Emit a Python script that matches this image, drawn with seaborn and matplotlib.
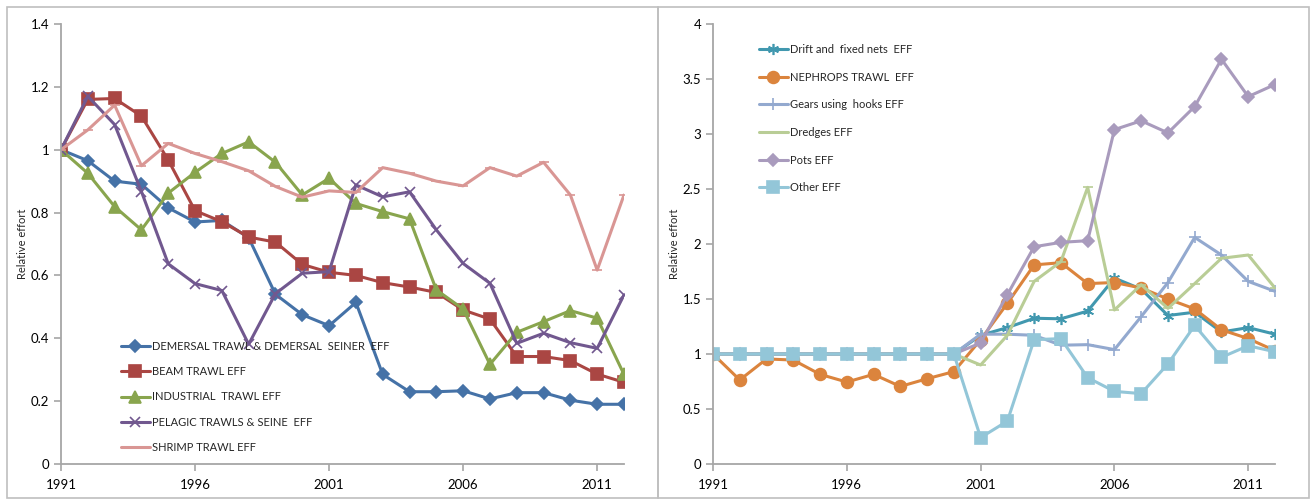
import numpy as np
import pandas as pd
import matplotlib
matplotlib.use("Agg")
import matplotlib.pyplot as plt
import matplotlib.ticker as mticker
from matplotlib.patches import Rectangle
import seaborn as sns

# dados
years = list(range(1991, 2013))

demersal = [1.0, 0.965, 0.9, 0.89, 0.815, 0.77, 0.775, 0.72, 0.54, 0.475, 0.44, 0.514,
            0.285, 0.23, 0.23, 0.233, 0.207, 0.227, 0.227, 0.203, 0.19, 0.19]
beam = [1.0, 1.16, 1.163, 1.107, 0.967, 0.806, 0.771, 0.722, 0.706, 0.635, 0.61, 0.6,
        0.577, 0.563, 0.546, 0.49, 0.461, 0.342, 0.342, 0.329, 0.286, 0.26]
industrial = [1.0, 0.925, 0.819, 0.745, 0.862, 0.928, 0.988, 1.025, 0.96, 0.856, 0.909, 0.829,
              0.803, 0.78, 0.554, 0.493, 0.317, 0.419, 0.453, 0.488, 0.464, 0.285]
pelagic = [1.0, 1.17, 1.08, 0.867, 0.637, 0.574, 0.552, 0.381, 0.542, 0.607, 0.612, 0.888,
           0.85, 0.866, 0.745, 0.638, 0.575, 0.384, 0.416, 0.386, 0.368, 0.538]
shrimp = [1.0, 1.063, 1.142, 0.949, 1.02, 0.988, 0.962, 0.933, 0.883, 0.849, 0.869, 0.864,
          0.943, 0.925, 0.9, 0.885, 0.943, 0.916, 0.96, 0.856, 0.617, 0.856]

drift = [1.0] * 10 + [1.17, 1.24, 1.325, 1.32, 1.39, 1.69, 1.59, 1.35, 1.38, 1.2, 1.24, 1.18]
nephrops = [1.0, 0.764, 0.955, 0.945, 0.815, 0.745, 0.815, 0.705, 0.775, 0.84, 1.13, 1.46,
            1.81, 1.83, 1.64, 1.65, 1.6, 1.5, 1.41, 1.22, 1.14, 1.03]
hooks = [1.0] * 10 + [1.18, 1.18, 1.17, 1.08, 1.085, 1.04, 1.34, 1.65, 2.06, 1.9, 1.66, 1.57]
dredges = [1.0] * 10 + [0.9, 1.17, 1.66, 1.84, 2.515, 1.4, 1.63, 1.415, 1.64, 1.87, 1.9, 1.6]
pots = [1.0] * 10 + [1.1, 1.54, 1.975, 2.015, 2.03, 3.04, 3.12, 3.01, 3.25, 3.68, 3.34, 3.45]
other = [1.0] * 10 + [0.24, 0.39, 1.13, 1.14, 0.785, 0.66, 0.64, 0.91, 1.26, 0.97, 1.075, 1.02]

left_series = [
    ("DEMERSAL TRAWL & DEMERSAL  SEINER  EFF", demersal, "#4572A7", "D", 6.5),
    ("BEAM TRAWL EFF", beam, "#AA4643", "s", 8.5),
    ("INDUSTRIAL  TRAWL EFF", industrial, "#89A54E", "^", 8.5),
    ("PELAGIC TRAWLS & SEINE  EFF", pelagic, "#71588F", "x", 7),
    ("SHRIMP TRAWL EFF", shrimp, "#D99694", "_", 7),
]
right_series = [
    ("Drift and  fixed nets  EFF", drift, "#4198AF", (6, 2, 0), 8),
    ("NEPHROPS TRAWL  EFF", nephrops, "#DB843D", "o", 8.5),
    ("Gears using  hooks EFF", hooks, "#93A9CF", "+", 8),
    ("Dredges EFF", dredges, "#B9CD96", "_", 7),
    ("Pots EFF", pots, "#A99BBD", "D", 6.5),
    ("Other EFF", other, "#93C6D8", "s", 8.5),
]

sns.set_style("white")
plt.rcParams['font.family'] = ['Lato', 'DejaVu Sans']

fig = plt.figure(figsize=(13.13, 5), dpi=100)
W, H = 1313, 500

# molduras dos dois graficos
for x0, x1 in [(7, 658), (658, 1309)]:
    fig.patches.append(Rectangle((x0 / W, 1 - 498 / H), (x1 - x0) / W, (498 - 7) / H,
                                 transform=fig.transFigure, fill=False,
                                 edgecolor="#BFBFBF", lw=1.2))

ax1 = fig.add_axes([61 / W, 1 - 464 / H, (624 - 61) / W, (464 - 24) / H])
ax2 = fig.add_axes([713 / W, 1 - 464 / H, (1275 - 713) / W, (464 - 24) / H])


def draw(ax, series, ymax, ystep):
    for name, vals, col, mk, ms in series:
        sns.lineplot(x=years, y=vals, ax=ax, color=col, lw=2.2, marker=mk, markersize=ms,
                     markeredgecolor=col, markerfacecolor=col, markeredgewidth=1.2,
                     label=name)
    ax.set_xlim(1991, 2012)
    ax.set_ylim(0, ymax)
    ax.set_xticks([1991, 1996, 2001, 2006, 2011])
    ax.set_yticks(np.arange(0, ymax + 0.001, ystep))
    ax.yaxis.set_major_formatter(mticker.FuncFormatter(lambda v, p: "%g" % round(v, 2)))
    for s in ["top", "right"]:
        ax.spines[s].set_visible(False)
    for s in ["left", "bottom"]:
        ax.spines[s].set_color("#A6A6A6")
        ax.spines[s].set_linewidth(1.3)
    ax.tick_params(axis="both", direction="out", length=5, width=1.2, color="#A6A6A6",
                   labelsize=9.5, labelcolor="black", bottom=True, left=True)
    ax.tick_params(axis="x", pad=6)
    ax.set_ylabel("Relative effort", fontsize=8, labelpad=2)
    ax.set_xlabel("")
    ax.patch.set_alpha(0)


draw(ax1, left_series, 1.4, 0.2)
draw(ax2, right_series, 4, 0.5)

ax1.legend(loc="upper left", bbox_to_anchor=(121 / W, 1 - 341 / H),
           bbox_transform=fig.transFigure, frameon=False, fontsize=8,
           handlelength=2.6, handletextpad=0.2, labelspacing=1.28,
           borderpad=0, borderaxespad=0)
ax2.legend(loc="upper left", bbox_to_anchor=(759 / W, 1 - 44 / H),
           bbox_transform=fig.transFigure, frameon=False, fontsize=8,
           handlelength=2.6, handletextpad=0.2, labelspacing=1.5,
           borderpad=0, borderaxespad=0)

fig.savefig("out.png", dpi=100)
